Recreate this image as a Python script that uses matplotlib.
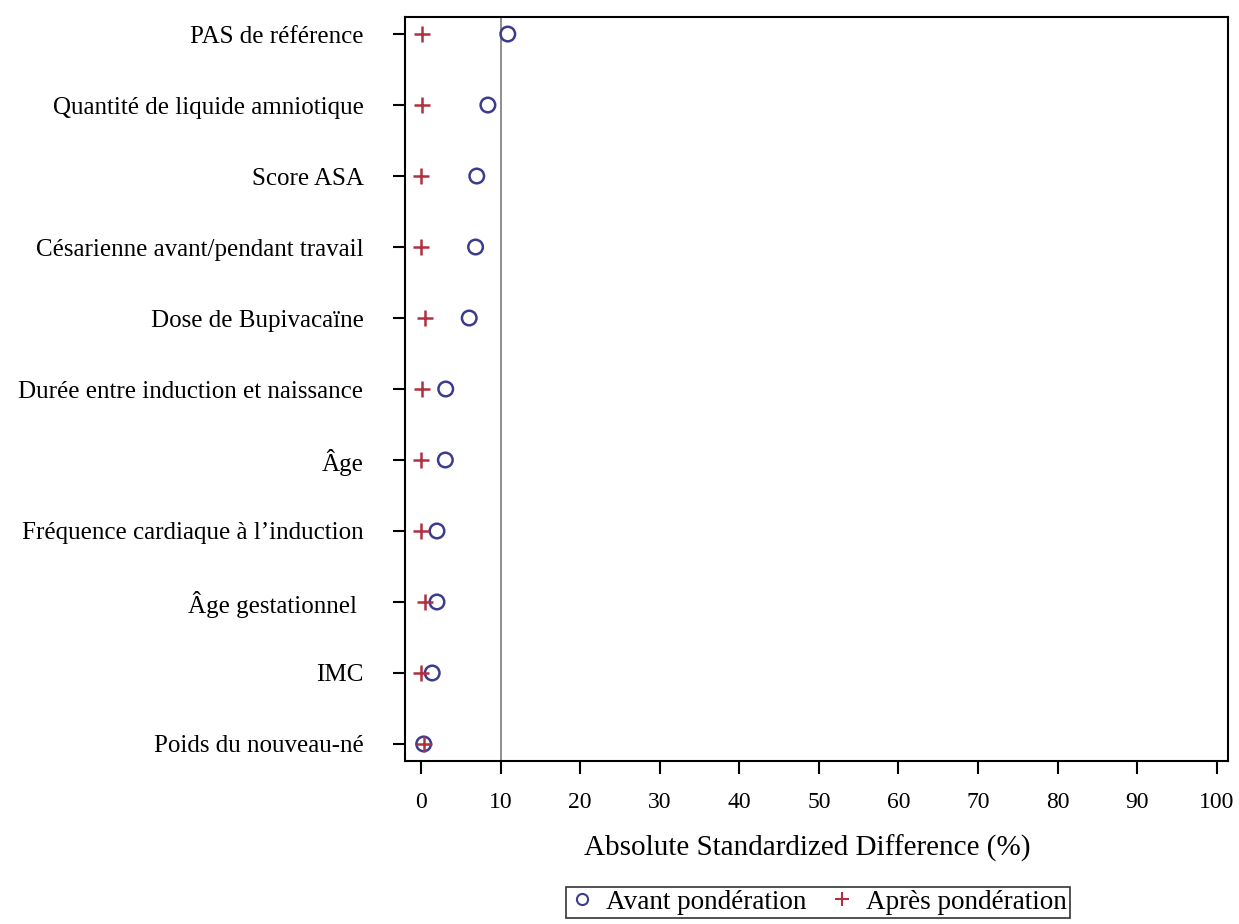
import matplotlib
matplotlib.use("Agg")
import matplotlib.pyplot as plt
from matplotlib.lines import Line2D

# ---- données ----
variables = [
    "PAS de référence",
    "Quantité de liquide amniotique",
    "Score ASA",
    "Césarienne avant/pendant travail",
    "Dose de Bupivacaïne",
    "Durée entre induction et naissance",
    "Âge",
    "Fréquence cardiaque à l\u2019induction",
    "Âge gestationnel ",
    "IMC",
    "Poids du nouveau-né",
]
avant = [10.9, 8.4, 7.0, 6.85, 6.05, 3.1, 3.05, 2.0, 2.0, 1.4, 0.33]
apres = [0.13, 0.13, 0.0, 0.0, 0.45, 0.1, 0.03, 0.03, 0.55, 0.0, 0.33]
xticks = list(range(0, 101, 10))
seuil = 10

plt.rcParams["font.family"] = ["Liberation Serif", "DejaVu Serif"]

fig = plt.figure(figsize=(12.39, 9.24), dpi=100)
ax = fig.add_axes([0.327, 0.1764, 0.664, 0.8052])

ypos = list(range(len(variables)))
ax.axvline(seuil, color="#7a7a7a", lw=1.2, zorder=1)
ax.scatter(avant, ypos, s=110, facecolors="none", edgecolors="#3c3c8c",
           linewidths=1.8, zorder=3, label="Avant pondération")
ax.scatter(apres, ypos, s=140, marker="+", color="#b03040",
           linewidths=1.8, zorder=4, label="Après pondération")

ax.set_xlim(-2, 101.4)
ax.set_ylim(len(variables) - 1 + 0.24, -0.24)
ax.set_yticks(ypos)
ax.set_yticklabels(variables, fontsize=18)
ax.set_xticks(xticks)
ax.set_xticklabels([str(t) for t in xticks], fontsize=17)
ax.tick_params(axis="both", direction="out", length=9, width=1.5)
ax.tick_params(axis="y", pad=21)
ax.tick_params(axis="x", pad=13)
for s in ax.spines.values():
    s.set_linewidth(1.5)
ax.set_xlabel("Absolute Standardized Difference (%)", fontsize=21)
ax.xaxis.set_label_coords(0.4885, -0.118)
ax.xaxis.label.set_va("center")

handles = [
    Line2D([], [], marker="o", ls="none", markerfacecolor="none",
           markeredgecolor="#3c3c8c", markeredgewidth=1.5, markersize=8),
    Line2D([], [], marker="+", ls="none", color="#b03040",
           markeredgewidth=1.5, markersize=10),
]
leg = fig.legend(handles, ["Avant pondération", "Après pondération"],
                 loc="center", bbox_to_anchor=(0.660, 0.0233), ncol=2,
                 frameon=True, fancybox=False, fontsize=19.5,
                 handletextpad=0.4, columnspacing=0.8, borderpad=0.1,
                 handlelength=1.0)
leg.get_frame().set_edgecolor("black")
leg.get_frame().set_linewidth(1.2)

fig.savefig("out.png", dpi=100)
